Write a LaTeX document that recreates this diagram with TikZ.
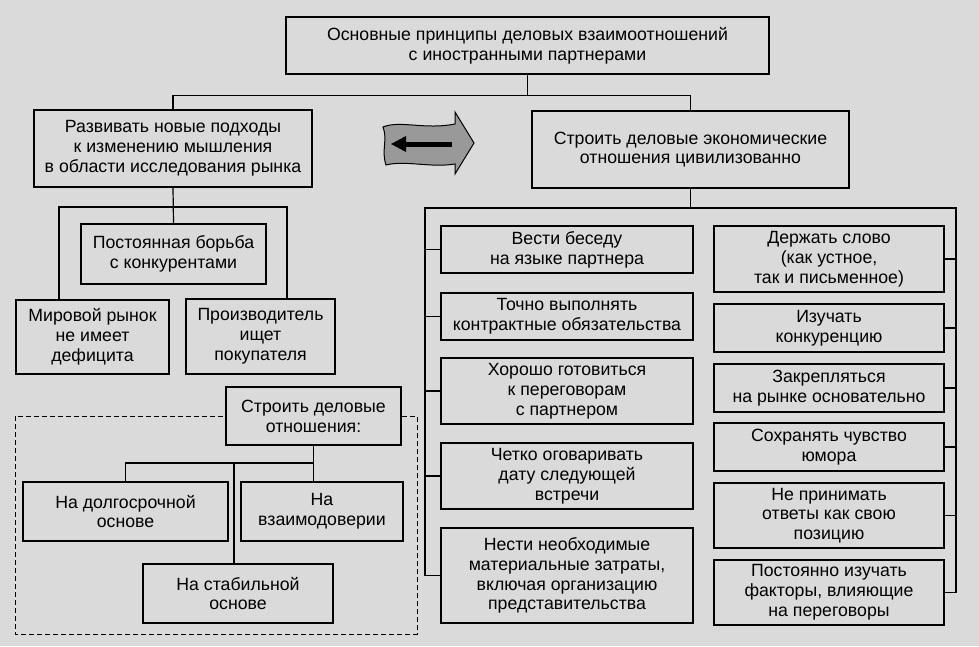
\documentclass[tikz,border=0pt]{standalone}
\usepackage{fontspec}
\setmainfont{Liberation Sans}
\definecolor{bg}{HTML}{DADADA}
\definecolor{arrowgray}{HTML}{999999}
\newcommand{\boxfont}{\fontsize{17.7}{19.8}\selectfont}
\begin{document}
\begin{tikzpicture}[x=1pt,y=-1pt,
  box/.style={draw, line width=1.2pt, fill=bg, align=center, inner sep=0pt, font=\boxfont},
  link/.style={line width=1.2pt}]
\fill[bg] (0,0) rectangle (979,646);
\useasboundingbox (0,0) rectangle (979,646);
% dashed group
\draw[line width=1pt, dash pattern=on 5pt off 3pt] (15,416) rectangle (417,634);
% top level
\node[box, minimum width=483, minimum height=57] (top) at (527.5,45.5) {\raisebox{-3pt}{\parbox{470pt}{\centering Основные принципы деловых взаимоотношений\\с иностранными партнерами}}};
\node[box, minimum width=278, minimum height=77] (L) at (173,148.5) {Развивать новые подходы\\к изменению мышления\\в области исследования рынка};
\node[box, minimum width=317, minimum height=77] (R) at (690.5,149.5) {Строить деловые экономические\\отношения цивилизованно};
% left subtree
\node[box, minimum width=185, minimum height=60] (pb) at (173.5,254) {Постоянная борьба\\с конкурентами};
\node[box, minimum width=153, minimum height=74] (mr) at (92.5,337) {Мировой рынок\\не имеет\\дефицита};
\node[box, minimum width=149, minimum height=75] (pr) at (260.5,336.5) {Производитель\\ищет\\покупателя};
\node[box, minimum width=175, minimum height=58] (sd) at (313.5,416) {Строить деловые\\отношения:};
\node[box, minimum width=205, minimum height=59] (dl) at (125.5,511.5) {На долгосрочной\\основе};
\node[box, minimum width=162, minimum height=59] (vz) at (322,511.5) {На\\взаимодоверии};
\node[box, minimum width=190, minimum height=59] (st) at (238,593.5) {На стабильной\\основе};
% right subtree, left column
\node[box, minimum width=252, minimum height=47] (vb) at (567,249.5) {Вести беседу\\на языке партнера};
\node[box, minimum width=252, minimum height=47] (tv) at (567,316.5) {Точно выполнять\\контрактные обязательства};
\node[box, minimum width=252, minimum height=66] (hg) at (567,391) {Хорошо готовиться\\к переговорам\\с партнером};
\node[box, minimum width=252, minimum height=66] (ch) at (567,476) {Четко оговаривать\\дату следующей\\встречи};
\node[box, minimum width=252, minimum height=95] (nn) at (567,575.5) {Нести необходимые\\материальные затраты,\\включая организацию\\представительства};
% right subtree, right column
\node[box, minimum width=230, minimum height=66] (ds) at (829,259) {Держать слово\\(как устное,\\так и письменное)};
\node[box, minimum width=230, minimum height=48] (iz) at (829,328) {Изучать\\конкуренцию};
\node[box, minimum width=230, minimum height=48] (zk) at (829,388) {Закрепляться\\на рынке основательно};
\node[box, minimum width=230, minimum height=48] (sch) at (829,447) {Сохранять чувство\\юмора};
\node[box, minimum width=230, minimum height=65] (np) at (829,515.5) {Не принимать\\ответы как свою\\позицию};
\node[box, minimum width=230, minimum height=65] (pi) at (829,592.5) {Постоянно изучать\\факторы, влияющие\\на переговоры};
% connectors: top
\draw[link] (top.south) -- ++(0,21) coordinate (t1);
\draw[link] (L.north) |- (t1) -| (R.north);
% left subtree
\draw[link] (L.south) -- (pb.north);
\coordinate (hl1) at (59,207);
\coordinate (hl2) at (287,207);
\draw[link] (hl1 |- mr.north) -- (hl1) -- (hl2) -- (hl2 |- pr.north);
% sd subtree
\coordinate (j) at (313.5,463);
\draw[link] (sd.south) -- (j);
\draw[link] (dl.north) |- (j) -- (j |- vz.north);
\coordinate (js) at (234,463);
\draw[link] (js) -- (js |- st.north);
% right subtree
\coordinate (rl) at (425,208);
\coordinate (rr) at (956,208);
\draw[link] (R.south) -- (R.south |- rl);
\draw[link] (rl |- nn.west) -- (rl) -- (rr) -- (rr |- pi.east);
\foreach \n in {vb,tv,hg,ch,nn} \draw[link] (\n.west) -- (rl |- \n.west);
\foreach \n in {ds,iz,zk,sch,np,pi} \draw[link] (\n.east) -- (rr |- \n.east);
% block arrow
\draw[line width=1pt, fill=arrowgray] (383,127) .. controls (400,120) and (425,130) .. (455,124) -- (455,112) -- (474,143) -- (455,174) -- (455,164) .. controls (430,168) and (405,160) .. (386,165) .. controls (381,150) and (388,140) .. cycle;
\draw[line width=5pt] (452,144) -- (402,144);
\fill (391,144) -- (406,136) -- (406,152) -- cycle;
\end{tikzpicture}
\end{document}
